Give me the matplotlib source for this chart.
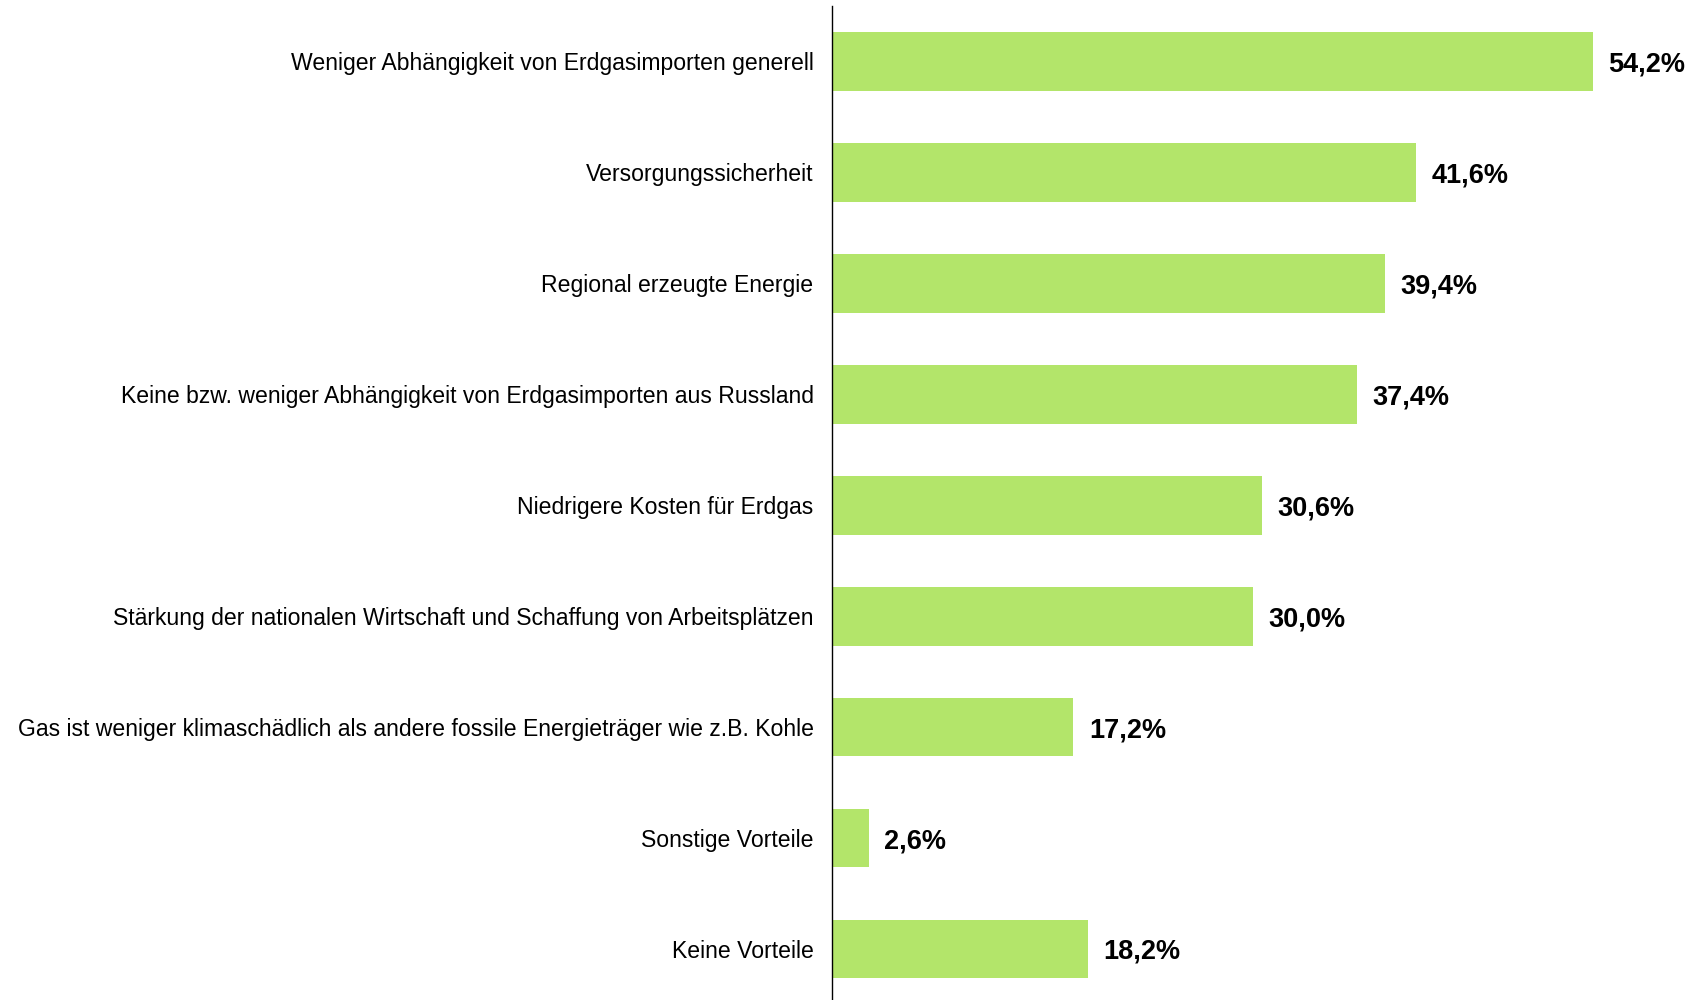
import matplotlib
matplotlib.use('Agg')
import matplotlib.pyplot as plt

plt.rcParams['font.family'] = ['Liberation Sans', 'DejaVu Sans']

categories = [
    'Weniger Abhängigkeit von Erdgasimporten generell',
    'Versorgungssicherheit',
    'Regional erzeugte Energie',
    'Keine bzw. weniger Abhängigkeit von Erdgasimporten aus Russland',
    'Niedrigere Kosten für Erdgas',
    'Stärkung der nationalen Wirtschaft und Schaffung von Arbeitsplätzen',
    'Gas ist weniger klimaschädlich als andere fossile Energieträger wie z.B. Kohle',
    'Sonstige Vorteile',
    'Keine Vorteile',
]
values = [54.2, 41.6, 39.4, 37.4, 30.6, 30.0, 17.2, 2.6, 18.2]
value_labels = ['54,2%', '41,6%', '39,4%', '37,4%', '30,6%', '30,0%', '17,2%', '2,6%', '18,2%']

fig = plt.figure(figsize=(17.06, 10), dpi=100)
ax = fig.add_axes([832 / 1706, 0, 1 - 832 / 1706, 0.994])

pos = list(range(len(categories)))
ax.barh(pos, values, height=0.53, color='#b3e56a')

# Werte rechts neben den Balken
for p, v, lab in zip(pos, values, value_labels):
    ax.text(v + 1.1, p, lab, va='center_baseline', ha='left', fontsize=19.5, fontweight='bold')

ax.set_yticks(pos)
ax.set_yticklabels(categories, fontsize=16.6)
ax.tick_params(axis='y', length=0, pad=13.3)
ax.set_xticks([])
ax.set_xlim(0, 62.25)
ax.set_ylim(len(categories) - 0.54, -0.5)

for s in ['top', 'right', 'bottom']:
    ax.spines[s].set_visible(False)
ax.spines['left'].set_linewidth(1)

fig.savefig('out.png', dpi=100)
